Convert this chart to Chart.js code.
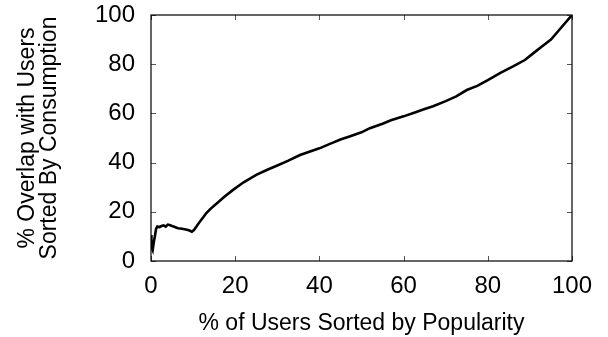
<!DOCTYPE html>
<html>
<head>
<meta charset="utf-8">
<script src="https://cdn.jsdelivr.net/npm/chart.js@4/dist/chart.umd.min.js"></script>
<style>
  html, body { margin: 0; padding: 0; background: #fff; }
  #wrap { width: 608px; height: 337px; }
</style>
</head>
<body>
<div id="wrap"><canvas id="c" width="608" height="337"></canvas></div>
<script>
// % of users sorted by popularity (x) vs. % overlap with users sorted by consumption (y)
const popularityPct = [0, 0.1, 0.4, 0.7, 0.9, 1.2, 1.5, 2.0, 2.5, 3.0, 3.5, 4.0, 4.4, 5.0, 5.5,
  6.4, 7.0, 8.0, 9.0, 9.7, 10.2, 10.8, 11.6, 12.5, 13.1, 14, 15.6, 17.5, 19.5, 22, 25, 27.5,
  30, 32.5, 35.4, 40, 42.5, 45, 47.5, 50, 52, 55, 57, 60, 62.5, 65, 67, 70, 72.5, 75, 77.5,
  80, 83, 86, 88.8, 91, 93, 95, 97, 100];
const overlapPct = [10.6, 5.8, 4.5, 8, 9.9, 13, 14, 13.8, 14.2, 14.5, 14.0, 14.8, 14.6, 14.2, 13.9,
  13.3, 13.2, 12.9, 12.5, 11.9, 12.6, 14, 16, 18, 19.4, 21, 23.4, 26.2, 28.9, 32, 35, 37,
  38.8, 40.7, 43.1, 45.8, 47.6, 49.4, 50.8, 52.3, 54, 55.8, 57.2, 58.8, 60.3, 61.8, 62.9, 65,
  66.9, 69.5, 71.2, 73.5, 76.5, 79.1, 81.7, 84.7, 87.4, 90, 94, 100];
const xTitle = '% of Users Sorted by Popularity';
const yTitle = ['% Overlap with Users', 'Sorted By Consumption'];

const FONT = "'Liberation Sans', Arial, Helvetica, sans-serif";

// closes the plot frame and draws inward tick marks on all four sides
const frameTicks = {
  id: 'frameTicks',
  afterDatasetsDraw(chart) {
    const { ctx, chartArea: a, scales } = chart;
    const len = 5;
    ctx.save();
    ctx.strokeStyle = '#555';
    ctx.lineWidth = 1;
    ctx.beginPath();
    scales.x.ticks.forEach(t => {
      const px = Math.round(scales.x.getPixelForValue(t.value)) + 0.5;
      ctx.moveTo(px, a.bottom); ctx.lineTo(px, a.bottom - len);
      ctx.moveTo(px, a.top); ctx.lineTo(px, a.top + len);
    });
    scales.y.ticks.forEach(t => {
      const py = Math.round(scales.y.getPixelForValue(t.value)) + 0.5;
      ctx.moveTo(a.left, py); ctx.lineTo(a.left + len, py);
      ctx.moveTo(a.right, py); ctx.lineTo(a.right - len, py);
    });
    ctx.stroke();
    ctx.strokeStyle = '#000';
    ctx.lineWidth = 1.2;
    ctx.strokeRect(a.left, a.top, a.right - a.left, a.bottom - a.top);
    ctx.restore();
  }
};

new Chart(document.getElementById('c'), {
  type: 'line',
  data: {
    datasets: [{
      data: popularityPct.map((x, i) => ({ x, y: overlapPct[i] })),
      borderColor: '#000',
      borderWidth: 2.6,
      pointRadius: 0,
      tension: 0,
      fill: false
    }]
  },
  options: {
    responsive: false,
    animation: false,
    layout: { padding: { left: 0, right: 36, top: 15, bottom: 0 } },
    plugins: { legend: { display: false }, tooltip: { enabled: false } },
    scales: {
      x: {
        type: 'linear', min: 0, max: 100,
        // hidden tick marks only reserve the gap between the frame and the labels
        grid: { display: false, drawTicks: true, tickLength: 11 },
        border: { display: false },
        ticks: { stepSize: 20, padding: 0, color: '#000', font: { family: FONT, size: 24 } },
        title: { display: true, text: xTitle, color: '#000', padding: { top: 0, bottom: 2 },
                 font: { family: FONT, size: 23, lineHeight: 0.96 } },
        afterFit(s) { s.height = 76; }
      },
      y: {
        type: 'linear', min: 0, max: 100,
        grid: { display: false, drawTicks: true, tickLength: 16 },
        border: { display: false },
        ticks: { stepSize: 20, padding: 0, color: '#000', font: { family: FONT, size: 24 } },
        title: { display: true, text: yTitle, color: '#000', padding: { top: 17, bottom: 0 },
                 font: { family: FONT, size: 23, lineHeight: 0.96 } },
        afterFit(s) { s.width = 151; }
      }
    }
  },
  plugins: [frameTicks]
});
</script>
</body>
</html>
